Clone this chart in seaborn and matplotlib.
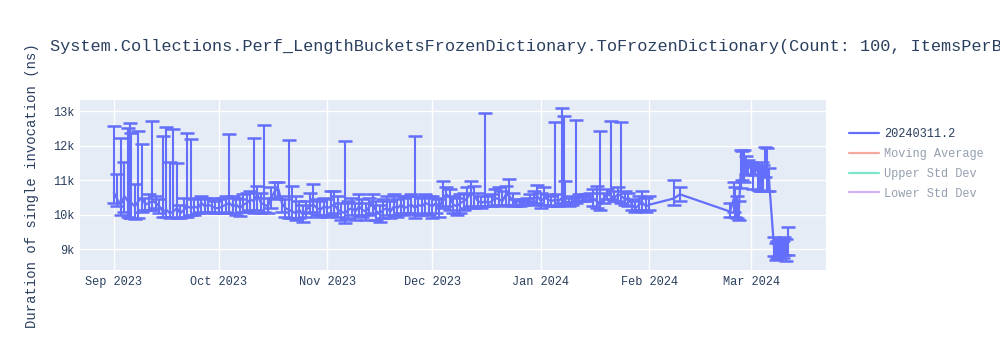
import pandas as pd
import seaborn as sns
import matplotlib.pyplot as plt
import matplotlib.dates as mdates
from matplotlib.lines import Line2D
from matplotlib.ticker import FuncFormatter

# Benchmark history: mean duration per run, with min / max reached (ns)

dates = [
    # Sep 2023
    '2023-09-01', '2023-09-02', '2023-09-03', '2023-09-04', '2023-09-05', '2023-09-05 12:00',
    '2023-09-06', '2023-09-07', '2023-09-08', '2023-09-09', '2023-09-10', '2023-09-11',
    '2023-09-12', '2023-09-13', '2023-09-14', '2023-09-15', '2023-09-16', '2023-09-17',
    '2023-09-18', '2023-09-19', '2023-09-20', '2023-09-21', '2023-09-22', '2023-09-23',
    '2023-09-24', '2023-09-25', '2023-09-26', '2023-09-27', '2023-09-28', '2023-09-29',
    '2023-09-30',
    # Oct 2023
    '2023-10-01', '2023-10-02', '2023-10-03', '2023-10-04', '2023-10-05', '2023-10-06',
    '2023-10-07', '2023-10-08', '2023-10-09', '2023-10-10', '2023-10-11', '2023-10-12',
    '2023-10-13', '2023-10-14', '2023-10-15', '2023-10-16', '2023-10-17', '2023-10-18',
    '2023-10-19', '2023-10-20', '2023-10-21', '2023-10-22', '2023-10-23', '2023-10-24',
    '2023-10-25', '2023-10-26', '2023-10-27', '2023-10-28', '2023-10-29', '2023-10-30',
    '2023-10-31',
    # Nov 2023
    '2023-11-01', '2023-11-02', '2023-11-03', '2023-11-04', '2023-11-05', '2023-11-06',
    '2023-11-07', '2023-11-08', '2023-11-09', '2023-11-10', '2023-11-11', '2023-11-12',
    '2023-11-13', '2023-11-14', '2023-11-15', '2023-11-16', '2023-11-17', '2023-11-18',
    '2023-11-19', '2023-11-20', '2023-11-21', '2023-11-22', '2023-11-23', '2023-11-24',
    '2023-11-25', '2023-11-26', '2023-11-27', '2023-11-28', '2023-11-29', '2023-11-30',
    # Dec 2023
    '2023-12-01', '2023-12-02', '2023-12-03', '2023-12-04', '2023-12-05', '2023-12-06',
    '2023-12-07', '2023-12-08', '2023-12-09', '2023-12-10', '2023-12-11', '2023-12-12',
    '2023-12-13', '2023-12-14', '2023-12-15', '2023-12-16', '2023-12-17', '2023-12-18',
    '2023-12-19', '2023-12-20', '2023-12-21', '2023-12-22', '2023-12-23', '2023-12-24',
    '2023-12-25', '2023-12-26', '2023-12-27', '2023-12-28', '2023-12-29', '2023-12-30',
    '2023-12-31',
    # Jan 2024
    '2024-01-01', '2024-01-02', '2024-01-03', '2024-01-04', '2024-01-05', '2024-01-06',
    '2024-01-07', '2024-01-07 12:00', '2024-01-08', '2024-01-09', '2024-01-10', '2024-01-11',
    '2024-01-12', '2024-01-13', '2024-01-14', '2024-01-15', '2024-01-16', '2024-01-17',
    '2024-01-18', '2024-01-19', '2024-01-20', '2024-01-21', '2024-01-22', '2024-01-23',
    '2024-01-24', '2024-01-25', '2024-01-26', '2024-01-27', '2024-01-28', '2024-01-29',
    '2024-01-30', '2024-01-31',
    # Feb / Mar 2024
    '2024-02-01', '2024-02-08', '2024-02-09 16:00', '2024-02-24', '2024-02-25',
    '2024-02-25 12:00', '2024-02-26', '2024-02-26 12:00', '2024-02-27', '2024-02-27 12:00',
    '2024-02-28', '2024-02-28 12:00', '2024-02-29', '2024-03-01', '2024-03-01 12:00',
    '2024-03-02', '2024-03-03', '2024-03-03 12:00', '2024-03-04', '2024-03-04 12:00',
    '2024-03-05', '2024-03-05 12:00', '2024-03-06', '2024-03-07 14:00', '2024-03-08',
    '2024-03-08 12:00', '2024-03-09', '2024-03-09 12:00', '2024-03-10', '2024-03-10 12:00',
    '2024-03-11', '2024-03-11 12:00',
]

mean_ns = [
    # Sep
    10650, 10450, 10300, 10550, 10400, 10300, 10350, 10250, 10400, 10500, 10300, 10350,
    10400, 10350, 10250, 10100, 10150, 10050, 10100, 10200, 10050, 10150, 10250, 10200,
    10250, 10200, 10350, 10250, 10300, 10250, 10200,
    # Oct
    10200, 10250, 10300, 10350, 10250, 10300, 10200, 10300, 10350, 10450, 10400, 10600,
    10350, 10300, 10250, 10500, 10700, 10750, 10350, 10200, 10150, 10100, 10050, 10150,
    10000, 10150, 10250, 10300, 10200, 10150, 10250,
    # Nov
    10200, 10250, 10300, 10150, 10100, 10050, 10150, 10200, 10100, 10250, 10150, 10100,
    10250, 10300, 10100, 10050, 10150, 10200, 10100, 10250, 10200, 10300, 10200, 10250,
    10300, 10200, 10300, 10250, 10350, 10300,
    # Dec
    10250, 10350, 10200, 10500, 10600, 10500, 10300, 10250, 10350, 10400, 10500, 10650,
    10550, 10400, 10350, 10400, 10350, 10400, 10500, 10450, 10400, 10600, 10550, 10400,
    10300, 10300, 10350, 10400, 10500, 10450, 10550,
    # Jan
    10400, 10500, 10450, 10400, 10450, 10400, 10500, 10450, 10400, 10350, 10400, 10450,
    10500, 10450, 10500, 10550, 10450, 10400, 10300, 10500, 10600, 10550, 10500, 10600,
    10550, 10450, 10500, 10300, 10200, 10300, 10350, 10250,
    # Feb / Mar
    10300, 10480, 10600, 10100, 10450, 10250, 10000, 10100, 11100, 11400, 11300, 11500,
    11350, 11400, 11200, 11350, 11250, 11150, 11300, 11050, 11350, 11150, 11200, 9050,
    8950, 9100, 9000, 9150, 9050, 9200, 9000, 9250,
]

max_ns = [
    # Sep
    12580, 11200, 12240, 11540, 12520, 12680, 12390, 10900, 12440, 12050, 10500, 10600,
    12720, 10550, 10450, 12300, 12550, 11550, 12500, 11500, 10300, 10500, 12370, 12200,
    10450, 10500, 10550, 10500, 10450, 10500, 10400,
    # Oct
    10450, 10500, 10550, 12340, 10550, 10500, 10450, 10600, 10650, 10700, 12220, 10850,
    10650, 12600, 10500, 10800, 10950, 10950, 10550, 10450, 12170, 10850, 10550, 10400,
    10300, 10400, 10650, 10900, 10450, 10400, 10500,
    # Nov
    10450, 10700, 10700, 10550, 10350, 12150, 10400, 10500, 10350, 10600, 10450, 10350,
    10500, 10600, 10400, 10300, 10450, 10550, 10400, 10600, 10450, 10550, 10500, 10550,
    10600, 12290, 10550, 10500, 10600, 10550,
    # Dec
    10550, 10500, 10450, 10990, 10800, 10750, 10550, 10500, 10600, 10650, 10800, 10990,
    10850, 10650, 10550, 12950, 10550, 10600, 10750, 10800, 10700, 10850, 11030, 10650,
    10450, 10400, 10450, 10500, 10600, 10700, 10870,
    # Jan
    10650, 10800, 10600, 10550, 12700, 10600, 13090, 12880, 10990, 10500, 10550, 12740,
    10600, 10550, 10600, 10650, 10750, 10850, 12440, 10650, 10750, 12730, 10700, 10800,
    12700, 10700, 10650, 10450, 10400, 10550, 10700, 10500,
    # Feb / Mar
    10550, 11000, 10800, 10350, 10970, 10800, 10550, 10400, 11880, 11850, 11880, 11700,
    11600, 11550, 11500, 11450, 11400, 11350, 11550, 11450, 11980, 11950, 11350, 9350,
    9200, 9250, 9200, 9300, 9250, 9360, 9300, 9660,
]

min_ns = [
    # Sep
    10350, 10250, 10000, 10100, 9950, 9900, 9900, 9880, 9900, 10100, 10150, 10150,
    10150, 10200, 10050, 9950, 9950, 9900, 9950, 9900, 9900, 9950, 9950, 10000,
    10000, 10050, 10100, 10050, 10100, 10100, 10050,
    # Oct
    10050, 10050, 10100, 10050, 10050, 10000, 9980, 10100, 10100, 10150, 10050, 10150,
    10050, 10100, 10050, 10200, 10500, 10450, 10100, 9950, 9900, 9900, 9850, 9900,
    9800, 9950, 10050, 10100, 10000, 9950, 10000,
    # Nov
    9950, 10000, 10050, 9950, 9850, 9780, 9900, 10000, 9850, 10000, 9950, 9850,
    10000, 10050, 9850, 9800, 9900, 10000, 9900, 10000, 9950, 10050, 10000, 10050,
    10050, 9900, 10000, 10000, 10050, 10000,
    # Dec
    9900, 10050, 9950, 10200, 10250, 10150, 10050, 10000, 10050, 10150, 10200, 10250,
    10200, 10250, 10200, 10250, 10250, 10250, 10300, 10300, 10250, 10300, 10300, 10250,
    10250, 10250, 10300, 10350, 10400, 10300, 10350,
    # Jan
    10200, 10300, 10300, 10250, 10250, 10250, 10350, 10300, 10300, 10250, 10300, 10350,
    10400, 10400, 10400, 10450, 10250, 10200, 10150, 10350, 10450, 10450, 10400, 10400,
    10350, 10300, 10250, 10150, 10100, 10150, 10150, 10100,
    # Feb / Mar
    10150, 10300, 10400, 9950, 10100, 9950, 9900, 9850, 10780, 11000, 10950, 11200,
    11150, 11200, 10750, 11150, 10720, 10700, 10700, 10700, 11100, 10700, 10700, 8800,
    8700, 8750, 8800, 8850, 8750, 8850, 8680, 8850,
]

legend_labels = ['20240311.2', 'Moving Average', 'Upper Std Dev', 'Lower Std Dev']
legend_colors = ['#636EFA', '#EF553B', '#00CC96', '#AB63FA']

# the title runs past the right edge in the original too
title = ('System.Collections.Perf_LengthBucketsFrozenDictionary.ToFrozenDictionary'
         '(Count: 100, ItemsPerBucket: 1)')

df = pd.DataFrame({'date': pd.to_datetime(dates, format='mixed'), 'mean': mean_ns,
                   'max': max_ns, 'min': min_ns})
df['err_hi'] = df['max'] - df['mean']
df['err_lo'] = df['mean'] - df['min']

sns.set_theme(style='darkgrid', rc={'axes.facecolor': '#E5ECF6',
                                    'grid.color': 'white',
                                    'grid.linewidth': 1.0})
plt.rcParams['font.family'] = ['Liberation Mono', 'DejaVu Sans Mono']
text_col = '#2a3f5f'

fig = plt.figure(figsize=(10, 3.5), dpi=100)
ax = fig.add_axes([0.08, 0.2286, 0.746, 0.4857])

ax.errorbar(df['date'], df['mean'], yerr=[df['err_lo'], df['err_hi']],
            fmt='none', ecolor='#636EFA', elinewidth=1.5, capsize=5,
            capthick=1.8, zorder=2)
sns.lineplot(data=df, x='date', y='mean', ax=ax, color='#636EFA',
             linewidth=1.6, zorder=3)

ax.set_xlim(pd.Timestamp('2023-08-22 08:00'), pd.Timestamp('2024-03-22 10:00'))
ax.set_ylim(8406, 13333)
ax.set_yticks([9000, 10000, 11000, 12000, 13000])
ax.yaxis.set_major_formatter(FuncFormatter(lambda v, p: f'{v / 1000:.0f}k'))
ax.xaxis.set_major_locator(mdates.MonthLocator())
ax.xaxis.set_major_formatter(mdates.DateFormatter('%b %Y'))
ax.tick_params(axis='both', labelsize=8.6, colors=text_col, length=0, pad=4)
for s in ax.spines.values():
    s.set_visible(False)
ax.set_xlabel('')
ax.set_ylabel('')

fig.text(0.05, 0.866, title, fontsize=12.2, color=text_col, va='center', ha='left')
fig.text(0.032, 0.47, 'Duration of single invocation (ns)', fontsize=10,
         color=text_col, rotation=90, va='center', ha='center')

handles = [Line2D([0], [0], color=c, lw=1.6, alpha=1.0 if i == 0 else 0.5)
           for i, c in enumerate(legend_colors)]
leg = fig.legend(handles, legend_labels, loc='upper left',
                 bbox_to_anchor=(0.838, 0.665), frameon=False, fontsize=8.6,
                 handlelength=2.5, handletextpad=0.45, labelspacing=0.66)
for i, t in enumerate(leg.get_texts()):
    t.set_color(text_col)
    if i > 0:
        t.set_alpha(0.5)

fig.savefig('out.png', dpi=100)
